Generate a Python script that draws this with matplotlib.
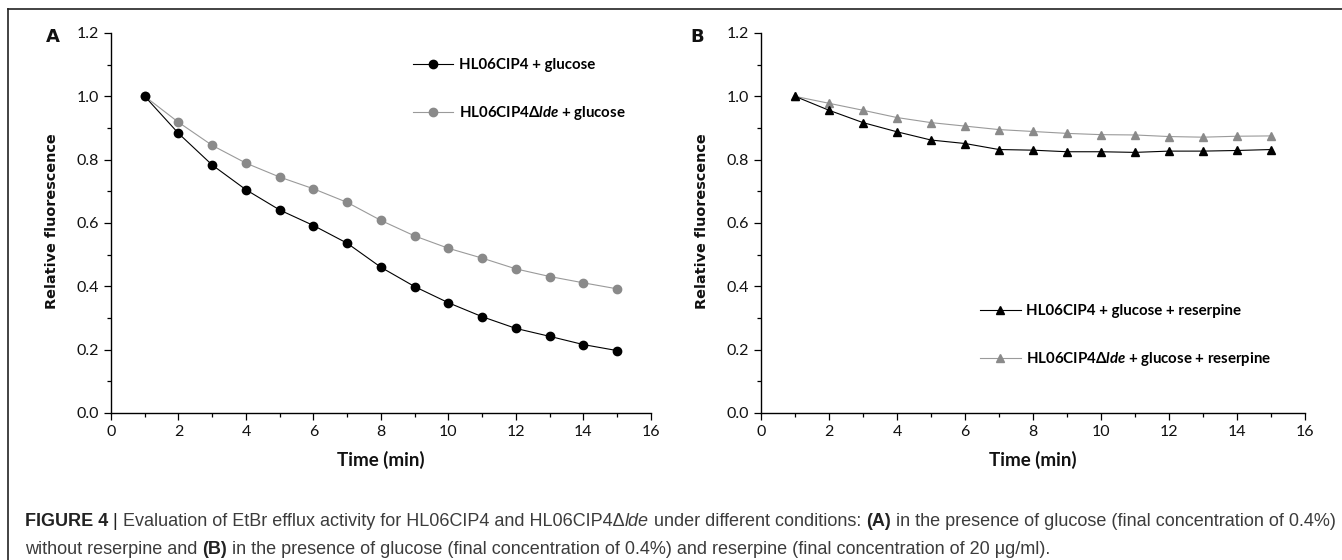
import matplotlib
matplotlib.use("Agg")
import matplotlib.pyplot as plt
from matplotlib.lines import Line2D
from matplotlib.ticker import MultipleLocator, FormatStrFormatter

# ---------------- data ----------------
time_min = [1, 2, 3, 4, 5, 6, 7, 8, 9, 10, 11, 12, 13, 14, 15]

a_wt = [1.000, 0.883, 0.783, 0.705, 0.641, 0.592, 0.536, 0.460, 0.399,
        0.348, 0.304, 0.267, 0.242, 0.216, 0.197]
a_del = [1.000, 0.918, 0.845, 0.789, 0.745, 0.708, 0.665, 0.608, 0.559,
         0.520, 0.489, 0.455, 0.431, 0.411, 0.392]

b_wt = [1.000, 0.956, 0.917, 0.888, 0.862, 0.851, 0.832, 0.830, 0.825,
        0.825, 0.823, 0.827, 0.827, 0.829, 0.832]
b_del = [1.000, 0.978, 0.956, 0.933, 0.917, 0.906, 0.895, 0.889, 0.883,
         0.879, 0.878, 0.873, 0.871, 0.874, 0.875]

label_a_wt = "HL06CIP4 + glucose"
label_a_del = r"HL06CIP4Δ$\mathbfit{lde}$ + glucose"
label_b_wt = "HL06CIP4 + glucose + reserpine"
label_b_del = r"HL06CIP4Δ$\mathbfit{lde}$ + glucose + reserpine"

x_label = "Time (min)"
y_label = "Relative fluorescence"

caption_line1 = [
    ("FIGURE 4", "bold"), (" | ", "bar"),
    ("Evaluation of EtBr efflux activity for HL06CIP4 and HL06CIP4Δ", "normal"),
    ("lde", "italic"),
    (" under different conditions: ", "normal"), ("(A)", "bold"),
    (" in the presence of glucose (final concentration of 0.4%)", "normal"),
]
caption_line2 = [
    ("without reserpine and ", "normal"), ("(B)", "bold"),
    (" in the presence of glucose (final concentration of 0.4%) and reserpine "
     "(final concentration of 20 μg/ml).", "normal"),
]

# ---------------- style ----------------
W, H = 1342, 560
plt.rcParams["mathtext.fontset"] = "custom"
plt.rcParams["mathtext.bfit"] = "Lato:bold:italic"
plt.rcParams["mathtext.it"] = "Lato:italic"
plt.rcParams["mathtext.rm"] = "Lato"
plt.rcParams["mathtext.bf"] = "Lato:bold"

TICK_FONT = ["Lato", "DejaVu Sans"]
BLACK = "#000000"
GRAY_M = "#8a8a8a"
GRAY_L = "#9a9a9a"

fig = plt.figure(figsize=(W / 100, H / 100), dpi=100)


def fx(px):
    return px / W


def fy(py):
    return 1 - py / H


def make_axes(x0, x1, y_top=33, y_bot=413):
    ax = fig.add_axes([fx(x0), fy(y_bot), (x1 - x0) / W, (y_bot - y_top) / H])
    ax.set_xlim(0, 16)
    ax.set_ylim(0, 1.2)
    ax.xaxis.set_major_locator(MultipleLocator(2))
    ax.xaxis.set_minor_locator(MultipleLocator(1))
    ax.yaxis.set_major_locator(MultipleLocator(0.2))
    ax.yaxis.set_minor_locator(MultipleLocator(0.1))
    ax.yaxis.set_major_formatter(FormatStrFormatter("%.1f"))
    for s in ("top", "right"):
        ax.spines[s].set_visible(False)
    for s in ("left", "bottom"):
        ax.spines[s].set_linewidth(1.0)
        ax.spines[s].set_color(BLACK)
    ax.tick_params(which="major", direction="out", length=5, width=0.9,
                   color=BLACK, labelsize=11.5, pad=3.5)
    ax.tick_params(which="minor", direction="out", length=3, width=0.9,
                   color=BLACK)
    for lab in ax.get_xticklabels() + ax.get_yticklabels():
        lab.set_family(TICK_FONT)
        lab.set_color("#111111")
    return ax


axA = make_axes(111, 651)
axB = make_axes(761, 1305)

axA.plot(time_min, a_wt, color=BLACK, lw=0.8, marker="o", ms=6.0,
         mfc=BLACK, mec=BLACK, label=label_a_wt, clip_on=False, zorder=3)
axA.plot(time_min, a_del, color=GRAY_L, lw=0.8, marker="o", ms=6.0,
         mfc=GRAY_M, mec=GRAY_M, label=label_a_del, clip_on=False, zorder=2)

axB.plot(time_min, b_wt, color=BLACK, lw=0.8, marker="^", ms=6.2,
         mfc=BLACK, mec=BLACK, label=label_b_wt, clip_on=False, zorder=3)
axB.plot(time_min, b_del, color=GRAY_L, lw=0.8, marker="^", ms=6.2,
         mfc=GRAY_M, mec=GRAY_M, label=label_b_del, clip_on=False, zorder=2)

leg_kw = dict(loc="upper left", frameon=False, borderpad=0, borderaxespad=0,
              handlelength=2.7, handletextpad=0.35, labelspacing=2.15,
              numpoints=1, prop={"family": TICK_FONT, "weight": "bold",
                                 "size": 10.8},
              bbox_transform=fig.transFigure)
axA.legend(bbox_to_anchor=(fx(413), fy(58)), **leg_kw)
axB.legend(bbox_to_anchor=(fx(980), fy(304)), **leg_kw)

# axis labels
for cx, tx in ((52, 381), (702, 1033)):
    fig.text(fx(cx), fy(221), y_label, rotation=90, ha="center", va="center",
             family="DejaVu Sans", weight="bold", size=10.4, color="#111111")
    fig.text(fx(tx), fy(460), x_label, ha="center", va="center",
             family=TICK_FONT, weight="bold", size=13.5, color="#111111")

# panel letters
fig.text(fx(53), fy(37), "A", ha="center", va="center",
         family="DejaVu Sans", weight="bold", size=13, color="#111111")
fig.text(fx(697), fy(37), "B", ha="center", va="center",
         family="DejaVu Sans", weight="bold", size=13, color="#111111")

# frame lines (top and left)
fig.add_artist(Line2D([fx(8), 1], [fy(9), fy(9)], color="#222222", lw=1.2,
                      transform=fig.transFigure))
fig.add_artist(Line2D([fx(8), fx(8)], [fy(9), 0], color="#222222", lw=1.2,
                      transform=fig.transFigure))

# caption, built from styled segments
CAP_FONT = ["Liberation Sans", "DejaVu Sans"]
renderer = fig.canvas.get_renderer()


def seg_props(style, size):
    p = dict(family=CAP_FONT, size=size, color="#3c3c3c")
    if style == "bold":
        p.update(weight="bold", color="#222222")
    elif style == "italic":
        p.update(style="italic")
    elif style == "bar":
        p.update(color="#222222")
    return p


def seg_width(text, props):
    t1 = fig.text(0, 0, "|" + text + "|", **props)
    t2 = fig.text(0, 0, "||", **props)
    w = t1.get_window_extent(renderer).width - t2.get_window_extent(renderer).width
    t1.remove()
    t2.remove()
    return w


def line_width(segs, size):
    return sum(seg_width(t, seg_props(s, size)) for t, s in segs)


base = 12.0
target = 1337 - 25
size = base * target / line_width(caption_line1, base)


def draw_line(segs, x0, yc, size):
    x = x0
    for t, s in segs:
        p = seg_props(s, size)
        fig.text(fx(x), fy(yc), t, ha="left", va="center_baseline", **p)
        x += seg_width(t, p)


draw_line(caption_line1, 25, 520, size)
draw_line(caption_line2, 25, 547, size)

fig.savefig("out.png", dpi=100)
